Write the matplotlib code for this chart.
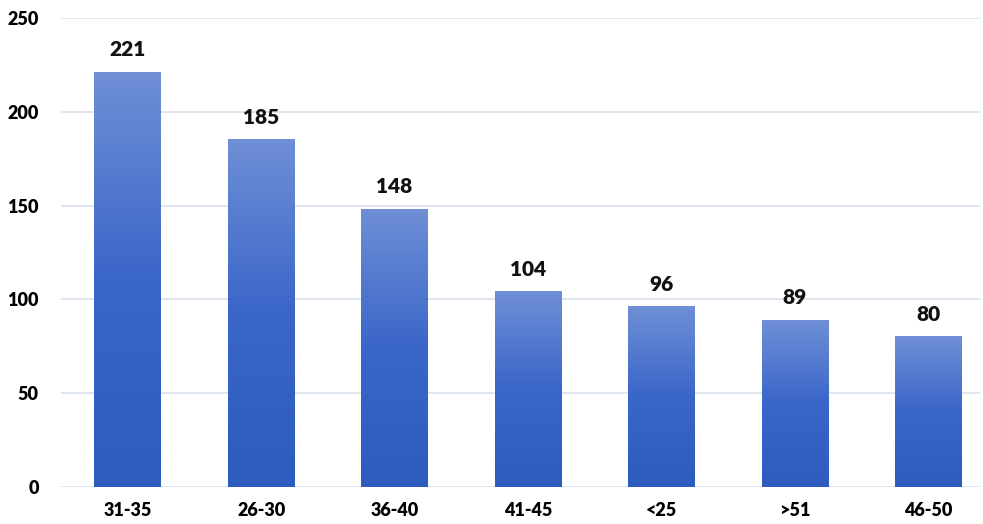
import numpy as np
import matplotlib.pyplot as plt
from matplotlib.colors import LinearSegmentedColormap

categories = ['31-35', '26-30', '36-40', '41-45', '<25', '>51', '46-50']
counts = [221, 185, 148, 104, 96, 89, 80]
y_ticks = [0, 50, 100, 150, 200, 250]

plt.rcParams['font.family'] = ['Lato', 'DejaVu Sans']

fig = plt.figure(figsize=(9.83, 5.24), dpi=100)
# plot area: x 61..980 px, y 18..487 px
ax = fig.add_axes([61 / 983, (524 - 487) / 524, (980 - 61) / 983, (487 - 18) / 524])

slot = 133.4
xmax = 6.5 - (995 - 980) / slot

cmap = LinearSegmentedColormap.from_list('bar', ['#2e5bbf', '#3a66c9', '#6f8fd6'])
grad = np.linspace(0, 1, 256).reshape(-1, 1)
width = 0.5
for i, v in enumerate(counts):
    ax.imshow(grad, cmap=cmap, aspect='auto', origin='lower',
              extent=(i - width / 2, i + width / 2, 0, v), zorder=2)
    ax.text(i, v + 7, str(v), ha='center', va='bottom',
            fontsize=15, fontweight='heavy', color='#111111', zorder=3)
ax.set_xlim(-0.5, xmax)
ax.set_ylim(0, 250)

ax.set_yticks(y_ticks)
ax.set_yticklabels([str(t) for t in y_ticks], fontsize=13, fontweight='heavy')
ax.set_xticks(range(len(categories)))
ax.set_xticklabels(categories, fontsize=13, fontweight='heavy')
ax.tick_params(length=0)
ax.tick_params(axis='y', pad=16)
ax.tick_params(axis='x', pad=11)
ax.grid(axis='y', color='#d9e2ec', linewidth=1.2, zorder=0)
ax.set_axisbelow(True)
for s in ax.spines.values():
    s.set_visible(False)

fig.savefig('out.png', dpi=100)
